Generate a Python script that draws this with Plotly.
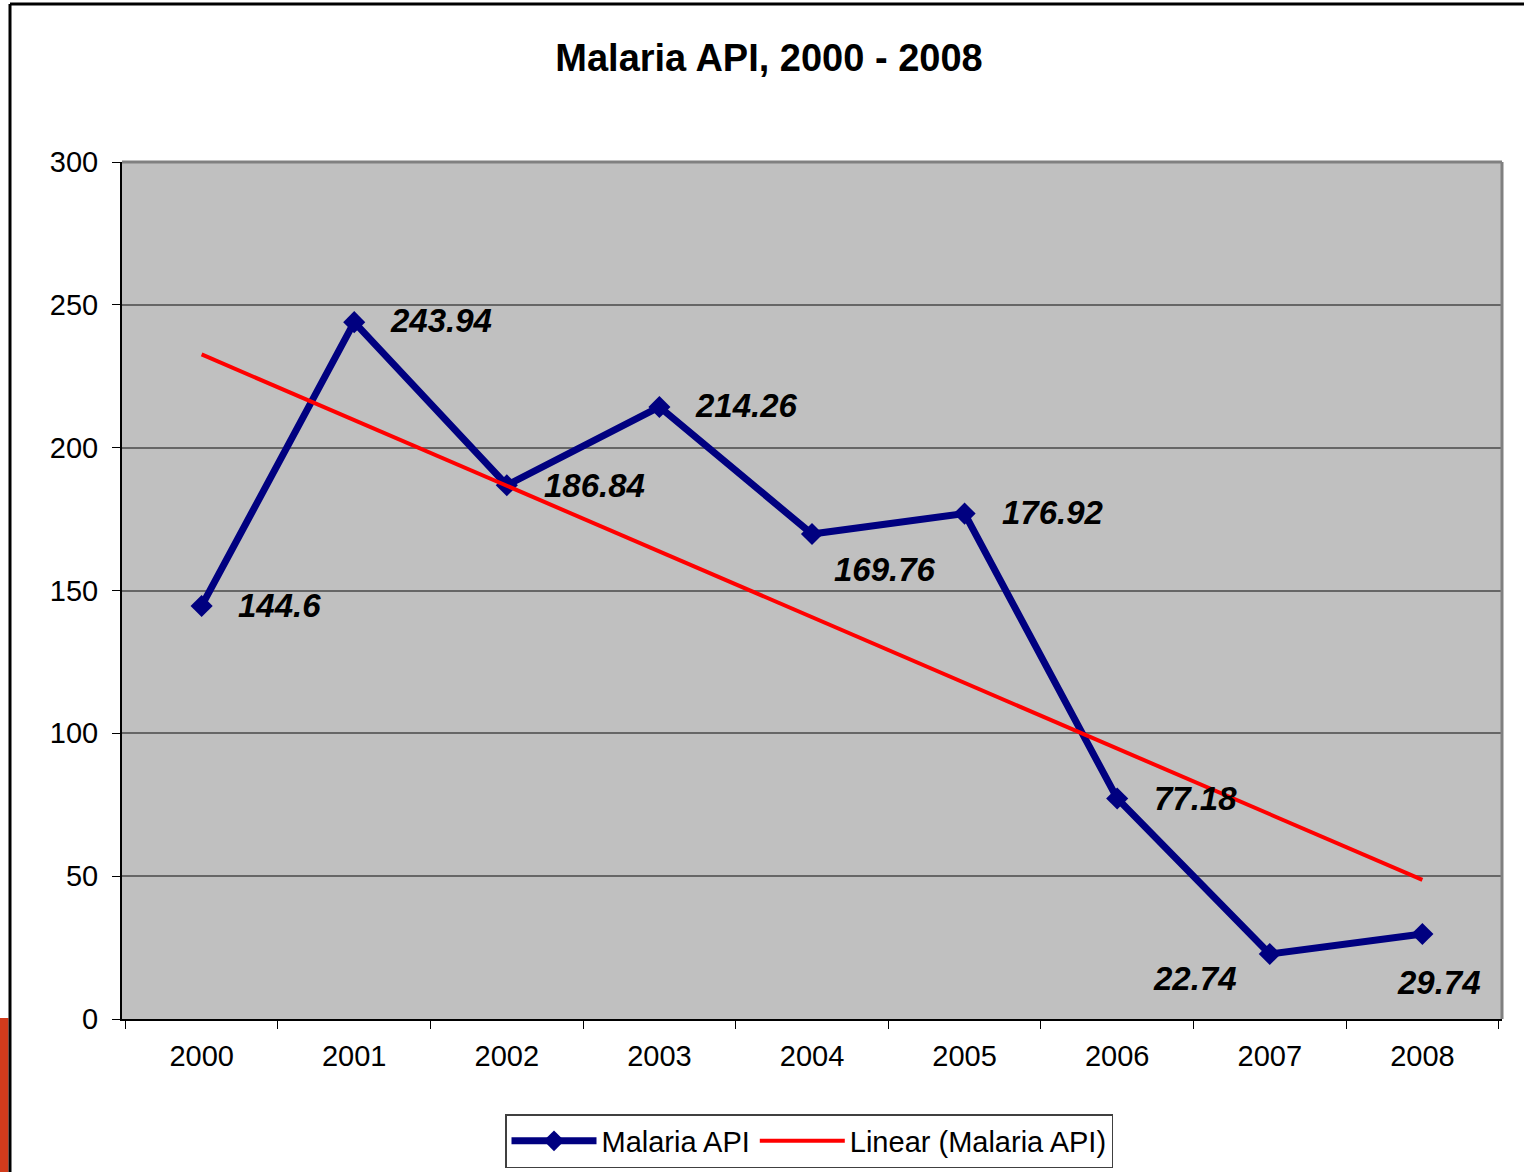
"""Malaria API line chart with a linear trend line."""

import numpy as np
import plotly.graph_objects as go

years = ["2000", "2001", "2002", "2003", "2004", "2005", "2006", "2007", "2008"]
api_values = [144.6, 243.94, 186.84, 214.26, 169.76, 176.92, 77.18, 22.74, 29.74]
y_ticks = [0, 50, 100, 150, 200, 250, 300]

# label offsets in pixels (dx, dy) relative to each point, like the Excel layout
label_offsets = [(78, 0), (87, 2), (88, 0), (87, 1), (73, -35),
                 (88, 1), (78, 0), (-75, -24), (17, -48)]

W, H = 1524, 1172
L, R, T, B = 122, 22, 162, 153
FONT = "Liberation Sans, Arial, sans-serif"
NAVY = "#000080"

# linear trend, same as Excel's "Linear" trendline
xs = np.arange(1, len(api_values) + 1)
slope, intercept = np.polyfit(xs, api_values, 1)
trend = slope * xs + intercept

fig = go.Figure()
fig.add_trace(go.Scatter(
    x=years, y=api_values, name="Malaria API", mode="lines+markers",
    line=dict(color=NAVY, width=7),
    marker=dict(symbol="diamond", size=17, color=NAVY),
))
fig.add_trace(go.Scatter(
    x=years, y=trend, name="Linear (Malaria API)", mode="lines",
    line=dict(color="#FF0000", width=4),
))

# annotations on a category axis take the category index
for i, (val, (dx, dy)) in enumerate(zip(api_values, label_offsets)):
    fig.add_annotation(
        x=i, y=val, text=f"<b><i>{val:g}</i></b>", showarrow=False,
        xanchor="center", yanchor="middle", xshift=dx, yshift=dy,
        font=dict(family=FONT, size=33, color="black"),
    )


def px_x(p):
    return (p - L) / (W - L - R)


def px_y(p):
    return (H - B - p) / (H - T - B)


# plot-area border (gray top and right edges)
for x0, y0, x1, y1 in [(0, 1, 1, 1), (1, 0, 1, 1)]:
    fig.add_shape(type="line", xref="paper", yref="paper", x0=x0, y0=y0, x1=x1, y1=y1,
                  line=dict(color="#808080", width=3))

# outer chart frame (top and left)
fig.add_shape(type="line", xref="paper", yref="paper",
              x0=px_x(10), y0=px_y(4), x1=px_x(W + 5), y1=px_y(4),
              line=dict(color="black", width=3))
fig.add_shape(type="line", xref="paper", yref="paper",
              x0=px_x(10), y0=px_y(4), x1=px_x(10), y1=px_y(H + 5),
              line=dict(color="black", width=3))
# bit of the slide background peeking out at bottom-left
fig.add_shape(type="rect", xref="paper", yref="paper",
              x0=px_x(-2), y0=px_y(1018), x1=px_x(8.5), y1=px_y(H + 5),
              line=dict(width=0), fillcolor="#D23B1C", layer="below")

fig.update_layout(
    width=W, height=H,
    margin=dict(l=L, r=R, t=T, b=B),
    paper_bgcolor="white",
    plot_bgcolor="#C0C0C0",
    font=dict(family=FONT, color="black"),
    title=dict(
        text="<b>Malaria API, 2000 - 2008</b>",
        x=769 / W, xanchor="center", xref="container",
        y=1 - 58 / H, yanchor="middle", yref="container",
        font=dict(family=FONT, size=38, color="black"),
    ),
    showlegend=True,
    legend=dict(
        orientation="h", x=809 / W, xanchor="center", xref="container",
        y=1 - 1114 / H, yanchor="top", yref="container",
        bgcolor="white", bordercolor="#404040", borderwidth=1.5,
        font=dict(family=FONT, size=29, color="black"),
        itemwidth=85,
    ),
)
fig.update_xaxes(
    type="category", tickson="boundaries", ticks="outside", ticklen=8,
    tickcolor="black", showline=True, linecolor="black", linewidth=2,
    showgrid=False, tickfont=dict(size=29), zeroline=False, tickangle=0,
    ticklabelstandoff=10,
)
fig.update_yaxes(
    range=[0, 300], tickvals=y_ticks, ticks="outside", ticklen=8, tickcolor="black",
    showline=True, linecolor="black", linewidth=2,
    showgrid=True, gridcolor="#666666", gridwidth=1.5,
    tickfont=dict(size=29), zeroline=False, ticklabelstandoff=8,
)

# drop the page's default body margin so the figure sits at the window's corner
fig.write_html("out.html", config={"displayModeBar": False},
               post_script="document.body.style.margin='0';")
